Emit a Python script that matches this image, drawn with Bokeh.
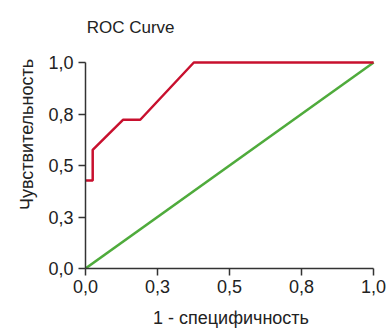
from bokeh.plotting import figure
from bokeh.models import Range1d, FixedTicker, Label
from bokeh.embed import file_html
from bokeh.resources import INLINE

# data
roc_fpr = [0.0, 0.025, 0.025, 0.13, 0.19, 0.376, 1.0]
roc_tpr = [0.427, 0.427, 0.576, 0.722, 0.722, 1.0, 1.0]
diag_x = [0.0, 1.0]
diag_y = [0.0, 1.0]
tick_values = [0.0, 0.25, 0.5, 0.75, 1.0]
tick_labels = ["0,0", "0,3", "0,5", "0,8", "1,0"]
title_text = "ROC Curve"

FONT = "Liberation Sans"

# frame spans the full height above the x axis; axis lines are bounded to 0..1
p = figure(width=386, height=332, output_backend="svg", toolbar_location=None,
           x_range=Range1d(0, 1.01), y_range=Range1d(0, 268 / 206),
           min_border_left=85, min_border_right=10, min_border_top=0,
           min_border_bottom=64)
p.outline_line_color = None
p.grid.visible = False
p.background_fill_color = "white"
p.border_fill_color = "white"

title = Label(x=0.004, y=(268 - 26.5) / 206, text=title_text, text_font=FONT,
              text_font_size="17px", text_color="#222222",
              text_baseline="alphabetic", text_align="left")
p.add_layout(title)

p.line(diag_x, diag_y, line_color="#4fab3c", line_width=2.5)
p.line(roc_fpr, roc_tpr, line_color="#c8102e", line_width=2.5)

for ax in (p.xaxis[0], p.yaxis[0]):
    ax.ticker = FixedTicker(ticks=tick_values)
    ax.bounds = (0, 1)
    ax.major_label_overrides = {v: l for v, l in zip(tick_values, tick_labels)}
    ax.minor_tick_line_color = None
    ax.major_tick_in = 0
    ax.major_tick_out = 7
    ax.axis_line_color = "#333333"
    ax.major_tick_line_color = "#333333"
    ax.axis_line_width = 1.5
    ax.major_tick_line_width = 1.5
    ax.major_label_text_font = FONT
    ax.major_label_text_font_size = "18px"
    ax.major_label_text_color = "#222222"
    ax.axis_label_text_font = FONT
    ax.axis_label_text_font_size = "18px"
    ax.axis_label_text_font_style = "normal"
    ax.axis_label_text_color = "#222222"

p.xaxis.axis_label = "1 - специфичность"
p.yaxis.axis_label = "Чувствительность"
p.xaxis.major_label_standoff = 4
p.yaxis.major_label_standoff = 5
p.xaxis.axis_label_standoff = 12
p.yaxis.axis_label_standoff = 8

open("out.html", "w").write(file_html(p, INLINE))
